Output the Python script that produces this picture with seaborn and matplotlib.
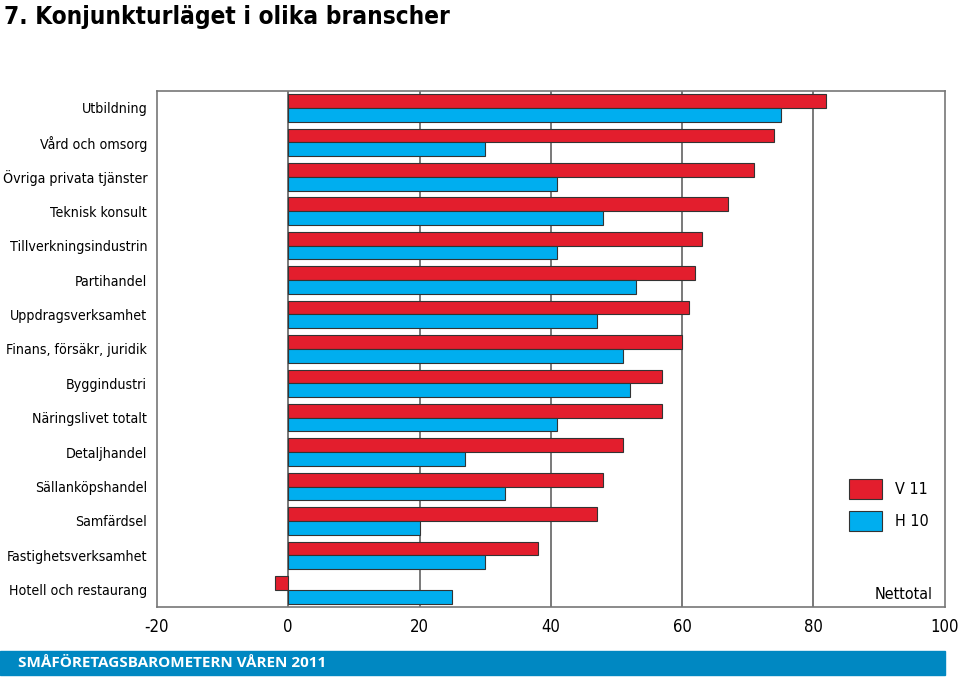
import pandas as pd
import matplotlib.pyplot as plt
import seaborn as sns
from matplotlib.patches import Rectangle

branscher = ["Utbildning", "Vård och omsorg", "Övriga privata tjänster", "Teknisk konsult",
             "Tillverkningsindustrin", "Partihandel", "Uppdragsverksamhet",
             "Finans, försäkr, juridik", "Byggindustri", "Näringslivet totalt",
             "Detaljhandel", "Sällanköpshandel", "Samfärdsel",
             "Fastighetsverksamhet", "Hotell och restaurang"]
v11 = [82, 74, 71, 67, 63, 62, 61, 60, 57, 57, 51, 48, 47, 38, -2]
h10 = [75, 30, 41, 48, 41, 53, 47, 51, 52, 41, 27, 33, 20, 30, 25]
perioder = ["V 11", "H 10"]
farger = ["#e31e2d", "#00aeef"]
xticks = [-20, 0, 20, 40, 60, 80, 100]

df = pd.DataFrame({
    "bransch": branscher * 2,
    "period": [perioder[0]] * len(branscher) + [perioder[1]] * len(branscher),
    "nettotal": v11 + h10,
})

sns.set_style("white")
plt.rcParams["font.family"] = ["DejaVu Sans"]
plt.rcParams["font.stretch"] = "condensed"
plt.rcParams["text.color"] = "black"
plt.rcParams["xtick.color"] = "black"
plt.rcParams["ytick.color"] = "black"

fig = plt.figure(figsize=(9.6, 6.77), dpi=100)
ax = fig.add_axes([0.1635, 0.1034, 0.8205, 0.7626])

sns.barplot(data=df, x="nettotal", y="bransch", hue="period", hue_order=perioder,
            palette=farger, saturation=1, orient="h", width=0.8, edgecolor="#333333",
            linewidth=0.8, ax=ax, zorder=3)

for x in [0, 20, 40, 60, 80]:
    ax.axvline(x, color="#555555", lw=1.1, zorder=1)

ax.set_xlim(-20, 100)
ax.set_ylim(14.5, -0.5)
ax.set_xticks(xticks)
ax.set_xticklabels([str(t) for t in xticks], fontsize=12)
ax.tick_params(axis="y", labelsize=10.2, length=0, pad=7)
ax.tick_params(axis="x", length=0, pad=8)
ax.set_xlabel("")
ax.set_ylabel("")
for s in ax.spines.values():
    s.set_color("#777777")
    s.set_linewidth(1.2)

sns.move_legend(ax, "upper left", bbox_to_anchor=(0.878, 0.248), frameon=False,
                title=None, fontsize=11.5, handlelength=2.1, handleheight=1.6,
                handletextpad=0.8, labelspacing=0.7, borderpad=0, borderaxespad=0)

ax.text(0.985, 0.01, "Nettotal", transform=ax.transAxes, ha="right", va="bottom",
        fontsize=11.5)

fig.text(0.004, 0.975, "7. Konjunkturläget i olika branscher", ha="left", va="center",
         fontsize=17.5, fontweight="bold")

fig.patches.append(Rectangle((0, 0.003), 0.984, 0.0355, transform=fig.transFigure,
                             color="#0088c2", zorder=0))
fig.text(0.019, 0.021, "SMÅFÖRETAGSBAROMETERN VÅREN 2011", ha="left", va="center",
         fontsize=11, fontweight="bold", color="white", fontstretch="normal",
         family=["Open Sans", "DejaVu Sans"])

fig.savefig("out.png", dpi=100)
